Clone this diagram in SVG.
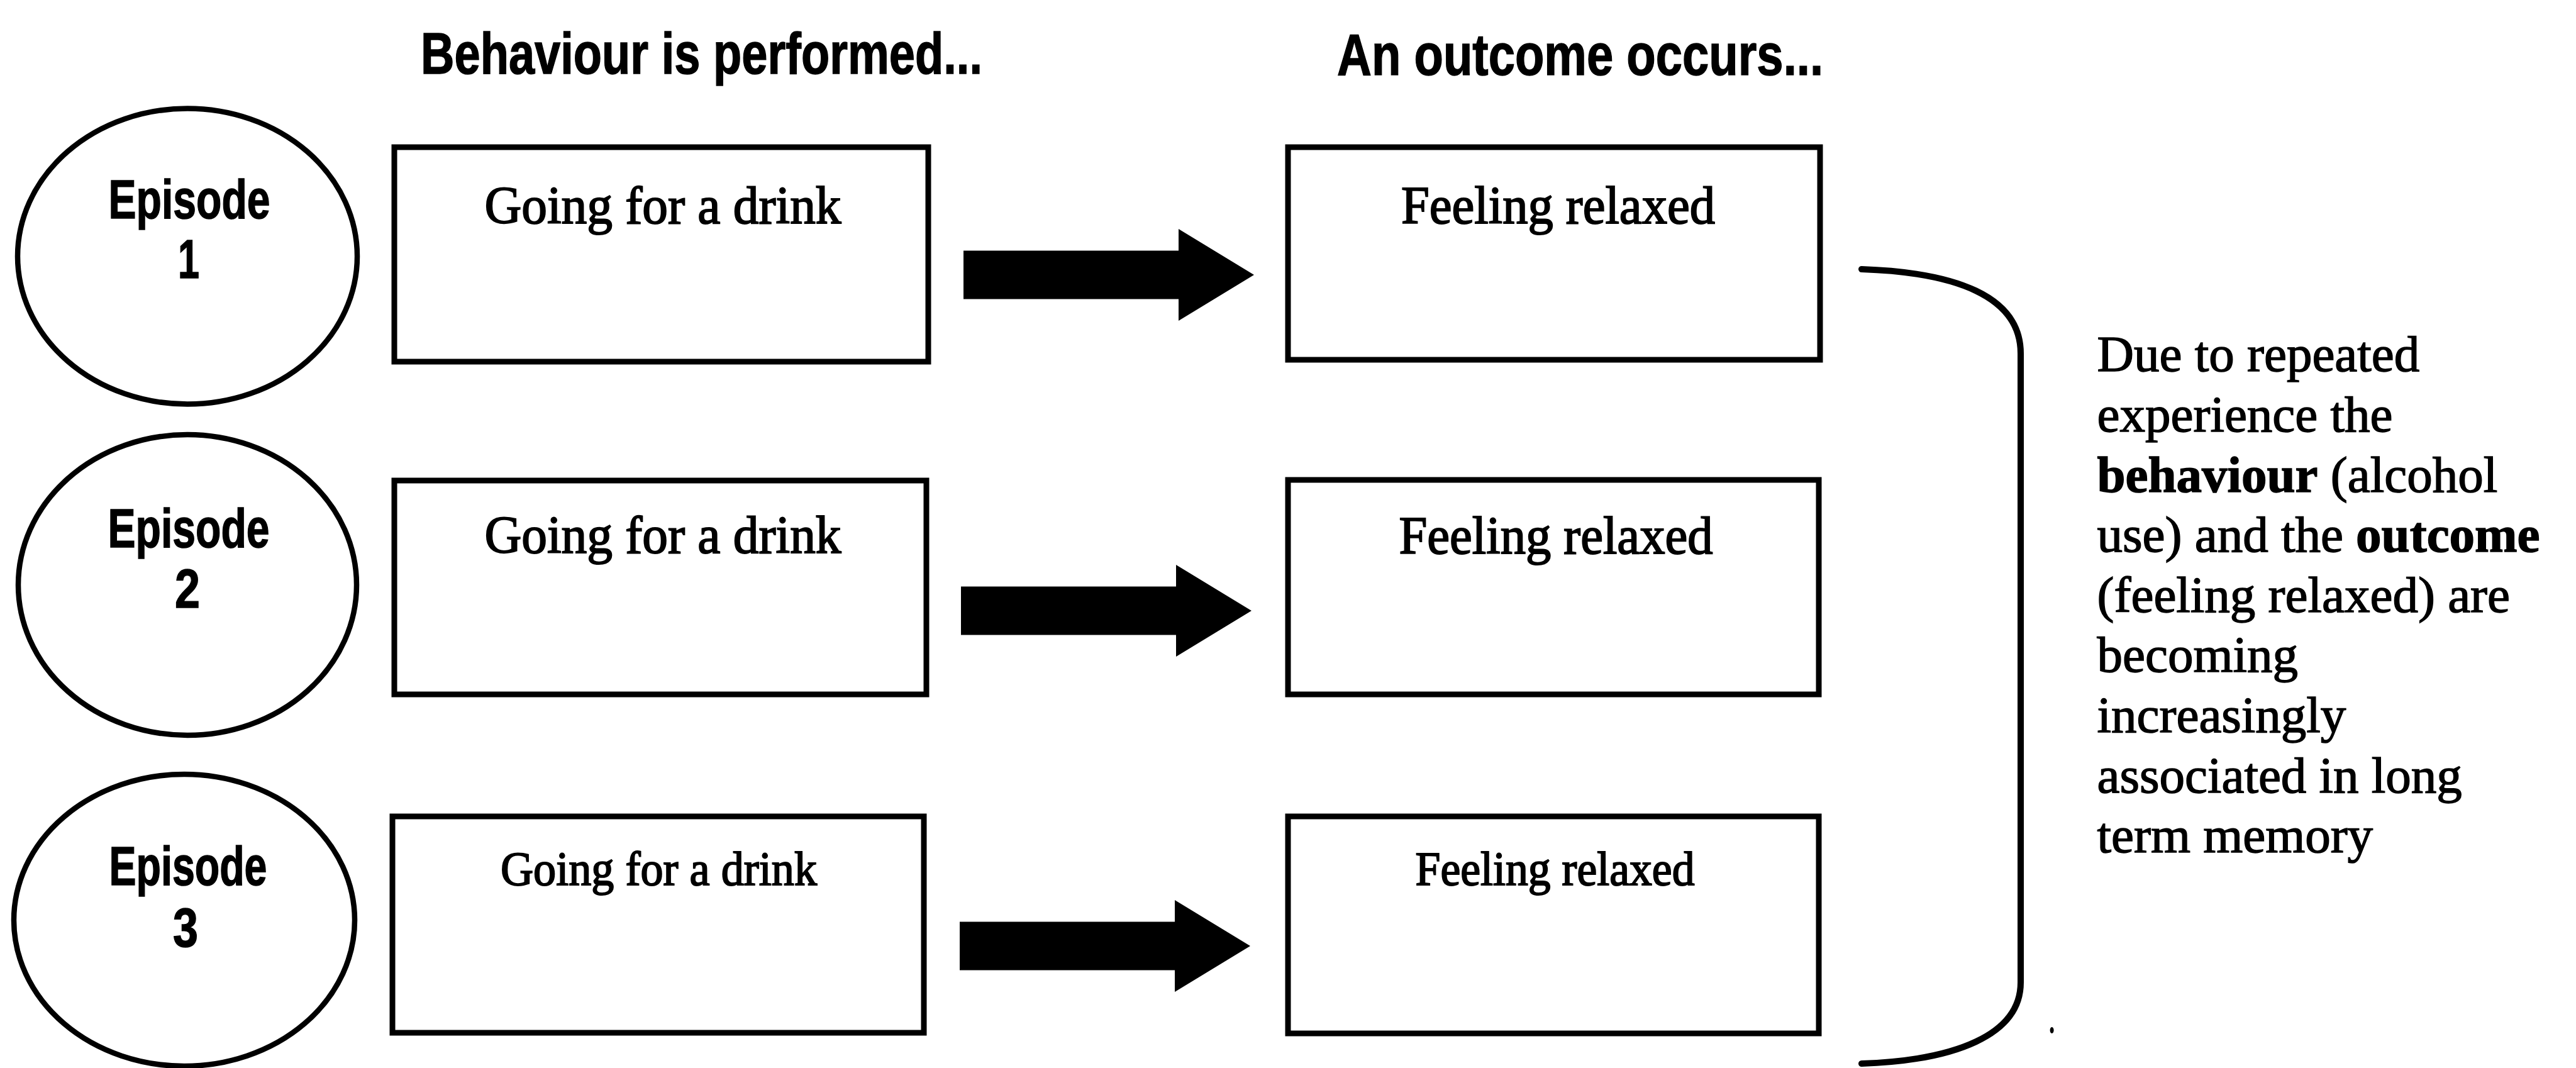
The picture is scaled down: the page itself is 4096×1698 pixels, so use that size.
<svg xmlns="http://www.w3.org/2000/svg" width="4096" height="1698" viewBox="0 0 4096 1698">
<style>
  .bg { fill: #ffffff; }
  .head { font-family: "Liberation Sans", Arial, sans-serif; font-weight: bold; font-size: 93px; fill: #000; stroke: #000; stroke-width: 1.5; }
  .ep { font-family: "Liberation Sans", Arial, sans-serif; font-weight: bold; font-size: 87px; fill: #000; stroke: #000; stroke-width: 1.5; text-anchor: middle; }
  .oval { fill: #fff; stroke: #000; stroke-width: 8.5; }
  .box { fill: #fff; stroke: #000; stroke-width: 9; }
  .lbl { font-family: "Liberation Serif", "Times New Roman", serif; font-size: 84px; fill: #000; stroke: #000; stroke-width: 2; text-anchor: middle; }
  .lbl.small { font-size: 76px; }
  .side { font-family: "Liberation Serif", "Times New Roman", serif; font-size: 81px; fill: #000; stroke: #000; stroke-width: 1.5; }
  .side .b { font-weight: bold; }
  .arrow { fill: #000; }
  .brace { fill: none; stroke: #000; stroke-width: 10; stroke-linecap: round; }
</style>
<defs>
  <path id="fatArrow" d="M0,-38.5 H342 V-73 L462,0 L342,73 V38.5 H0 Z"/>
</defs>
<rect class="bg" x="0" y="0" width="4096" height="1698"/>

<g id="headers">
  <text class="head" x="669" y="116.5" textLength="893" lengthAdjust="spacingAndGlyphs">Behaviour is performed...</text>
  <text class="head" x="2126" y="119" textLength="773" lengthAdjust="spacingAndGlyphs">An outcome occurs...</text>
</g>

<g id="episode1">
  <ellipse class="oval" cx="298" cy="407.5" rx="270" ry="235"/>
  <text class="ep" x="301" y="347" textLength="257" lengthAdjust="spacingAndGlyphs">Episode</text>
  <text class="ep" x="300" y="441.5" textLength="34" lengthAdjust="spacingAndGlyphs">1</text>
</g>
<g id="episode2">
  <ellipse class="oval" cx="298" cy="930" rx="269" ry="239"/>
  <text class="ep" x="300" y="870" textLength="257" lengthAdjust="spacingAndGlyphs">Episode</text>
  <text class="ep" x="298" y="965.5" textLength="40" lengthAdjust="spacingAndGlyphs">2</text>
</g>
<g id="episode3">
  <ellipse class="oval" cx="293" cy="1463" rx="271" ry="232"/>
  <text class="ep" x="299" y="1407" textLength="251" lengthAdjust="spacingAndGlyphs">Episode</text>
  <text class="ep" x="295" y="1504.5" textLength="40" lengthAdjust="spacingAndGlyphs">3</text>
</g>

<g id="behaviour1">
  <rect class="box" x="627" y="234" width="849" height="341"/>
  <text class="lbl" x="1054" y="355" textLength="567" lengthAdjust="spacingAndGlyphs">Going for a drink</text>
</g>
<g id="behaviour2">
  <rect class="box" x="627" y="764" width="846" height="340"/>
  <text class="lbl" x="1054" y="879" textLength="567" lengthAdjust="spacingAndGlyphs">Going for a drink</text>
</g>
<g id="behaviour3">
  <rect class="box" x="624" y="1298" width="845" height="344"/>
  <text class="lbl small" x="1047.5" y="1407" textLength="503" lengthAdjust="spacingAndGlyphs">Going for a drink</text>
</g>

<g id="outcome1">
  <rect class="box" x="2048" y="234" width="846" height="338"/>
  <text class="lbl" x="2477.5" y="355" textLength="499" lengthAdjust="spacingAndGlyphs">Feeling relaxed</text>
</g>
<g id="outcome2">
  <rect class="box" x="2048" y="763" width="844" height="341"/>
  <text class="lbl" x="2474" y="880" textLength="499" lengthAdjust="spacingAndGlyphs">Feeling relaxed</text>
</g>
<g id="outcome3">
  <rect class="box" x="2048" y="1298" width="844" height="345"/>
  <text class="lbl small" x="2472.5" y="1407" textLength="444" lengthAdjust="spacingAndGlyphs">Feeling relaxed</text>
</g>

<g id="note">
  <text class="side" x="3334.5">
    <tspan x="3334.5" y="590.4">Due to repeated</tspan>
    <tspan x="3334.5" y="686">experience the</tspan>
    <tspan x="3334.5" y="781.6"><tspan class="b">behaviour</tspan> (alcohol</tspan>
    <tspan x="3334.5" y="877.2">use) and the <tspan class="b">outcome</tspan></tspan>
    <tspan x="3334.5" y="972.8">(feeling relaxed) are</tspan>
    <tspan x="3334.5" y="1068.4">becoming</tspan>
    <tspan x="3334.5" y="1164">increasingly</tspan>
    <tspan x="3334.5" y="1259.6">associated in long</tspan>
    <tspan x="3334.5" y="1355.2">term memory</tspan>
  </text>
</g>

<g id="connectors">
  <use class="arrow" href="#fatArrow" transform="translate(1532,437)"/>
  <use class="arrow" href="#fatArrow" transform="translate(1528,971)"/>
  <use class="arrow" href="#fatArrow" transform="translate(1526,1504)"/>
  <path class="brace" d="M2960,428 C3108,433 3213,470 3213,562 V1562 C3213,1646 3108,1686 2960,1691"/>
  <ellipse cx="3262.6" cy="1638" rx="3" ry="5" fill="#000"/>
</g>
</svg>
